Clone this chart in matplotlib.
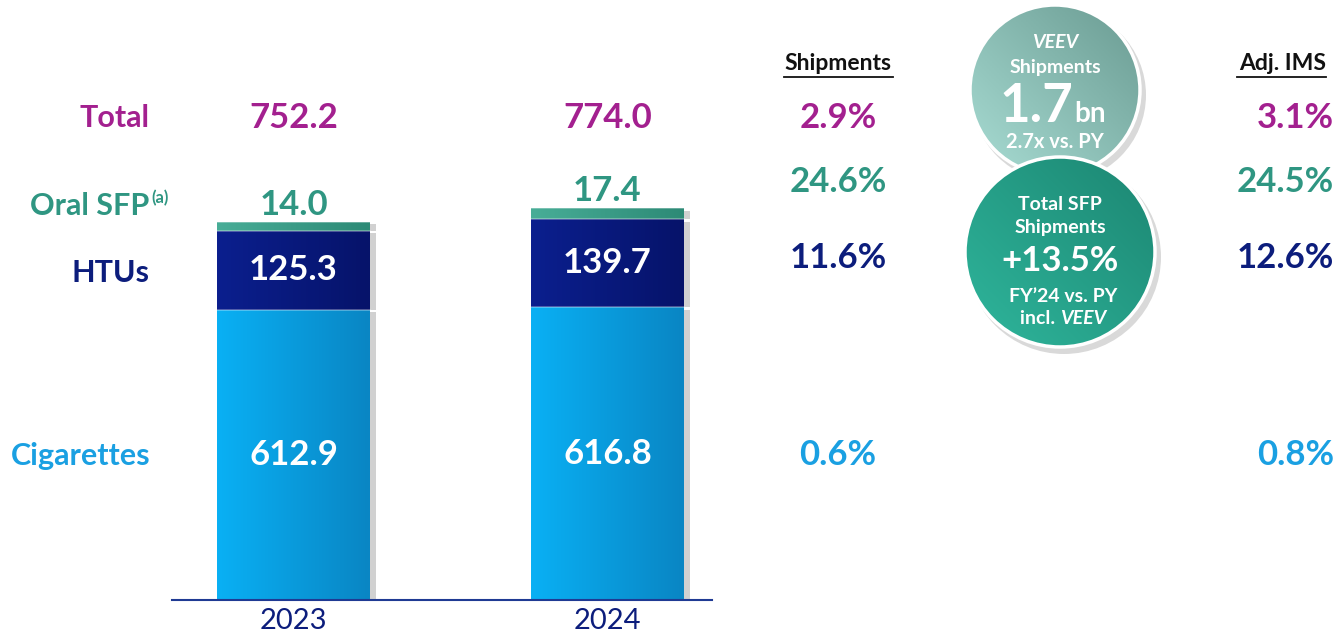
import numpy as np
import matplotlib.pyplot as plt
from matplotlib.patches import Circle, Rectangle
from matplotlib.colors import LinearSegmentedColormap

plt.rcParams['font.family'] = ['Lato', 'DejaVu Sans']

# data
years = ['2023', '2024']
cigarettes = [612.9, 616.8]
htus = [125.3, 139.7]
oral_sfp = [14.0, 17.4]
totals = [752.2, 774.0]

categories = ['Total', 'Oral SFP', 'HTUs', 'Cigarettes']
shipments_growth = ['2.9%', '24.6%', '11.6%', '0.6%']
adj_ims_growth = ['3.1%', '24.5%', '12.6%', '0.8%']

veev_value = '1.7'
veev_note = '2.7x vs. PY'
sfp_growth = '+13.5%'

# colours
PURPLE = '#a3208f'
TEAL = '#2f9682'
NAVY = '#0c1d7c'
LIGHTBLUE = '#1aa0e2'

W, H = 1336, 633
fig = plt.figure(figsize=(W / 100, H / 100), dpi=100)

# bar axes: baseline at y=600px, axis 172..712px
px_per_unit = 0.63
y_min = 152
ax = fig.add_axes([172 / W, (H - 600) / H, 540 / W, 600 / H])
ax.set_ylim(y_min, y_min + 600 / px_per_unit)
ax.set_xlim(-0.387, 1.333)
ax.axis('off')

x = np.arange(len(years))
bw = 0.487


def gradient_fill(patch, c_left, c_right, zorder):
    x0, y0 = patch.get_x(), max(patch.get_y(), y_min)
    x1, y1 = x0 + patch.get_width(), patch.get_y() + patch.get_height()
    cmap = LinearSegmentedColormap.from_list('g', [c_left, c_right])
    grad = np.linspace(0, 1, 64).reshape(1, -1)
    im = ax.imshow(grad, cmap=cmap, extent=(x0, x1, y0, y1), aspect='auto',
                   zorder=zorder, origin='lower')
    im.set_clip_path(patch)


def bevel(patch, zorder):
    # dark right shadow and light top edge
    x0, y0 = patch.get_x(), max(patch.get_y(), y_min)
    w, h = patch.get_width(), patch.get_y() + patch.get_height() - y0
    ax.add_patch(Rectangle((x0 + w, y0), 0.02, h - 4, color='#000000',
                           alpha=0.18, lw=0, zorder=zorder - 2))
    ax.plot([x0, x0 + w], [y0 + h, y0 + h], color='white', alpha=0.35, lw=1.2,
            zorder=zorder + 1)


cig_bars = ax.bar(x, cigarettes, bw, color='#079fe0', zorder=2)
htu_bars = ax.bar(x, htus, bw, bottom=cigarettes, color=NAVY, zorder=2)
oral_bars = ax.bar(x, oral_sfp, bw, bottom=np.add(cigarettes, htus),
                   color='#3aa08c', zorder=2)

for b in cig_bars:
    gradient_fill(b, '#09b0f4', '#0a86c4', 3)
    bevel(b, 3)
for b in htu_bars:
    gradient_fill(b, '#0b1f8e', '#06136a', 3)
    bevel(b, 3)
for b in oral_bars:
    gradient_fill(b, '#48ad97', '#2d8a76', 3)
    bevel(b, 3)

ax.plot([-0.387, 1.333], [y_min, y_min], color='#1f3a93', lw=1.5, zorder=5,
        clip_on=False)

# bar labels
for i in range(len(years)):
    ax.text(x[i], (y_min + cigarettes[i]) / 2, f'{cigarettes[i]:.1f}', color='white',
            ha='center', va='center', fontsize=25, fontweight='bold', zorder=6)
    ax.text(x[i], cigarettes[i] + htus[i] / 2, f'{htus[i]:.1f}', color='white',
            ha='center', va='center', fontsize=25, fontweight='bold', zorder=6)
    ax.text(x[i], totals[i] + 27, f'{oral_sfp[i]:.1f}', color=TEAL,
            ha='center', va='center', fontsize=25, fontweight='bold', zorder=6)
    ax.text(x[i], y_min + (600 - 118) / px_per_unit, f'{totals[i]:.1f}', color=PURPLE,
            ha='center', va='center', fontsize=25, fontweight='bold', zorder=6)
    ax.text(x[i], y_min - 21 / px_per_unit, years[i], color=NAVY,
            ha='center', va='center', fontsize=21, zorder=6, clip_on=False)

# overlay axes in pixel coordinates for the text columns and circles
ov = fig.add_axes([0, 0, 1, 1], zorder=5)
ov.set_xlim(0, W)
ov.set_ylim(H, 0)
ov.axis('off')
ov.patch.set_alpha(0)

row_y = [118, 206, 273, 456]
row_c = [PURPLE, TEAL, NAVY, LIGHTBLUE]
for lab, yy, cc in zip(categories, row_y, row_c):
    ov.text(150 if lab != 'Oral SFP' else 149, yy, lab, color=cc, ha='right',
            va='center', fontsize=22, fontweight='bold')
ov.text(151, 198, '(a)', color=TEAL, ha='left', va='center', fontsize=12,
        fontweight='bold')

ship_y = [118, 182, 258, 455]
for val, yy, cc in zip(shipments_growth, ship_y, row_c):
    ov.text(838, yy, val, color=cc, ha='center', va='center', fontsize=25,
            fontweight='bold')
for val, yy, cc in zip(adj_ims_growth, ship_y, row_c):
    ov.text(1334, yy, val, color=cc, ha='right', va='center', fontsize=25,
            fontweight='bold')

ov.text(838, 64, 'Shipments', color='#111111', ha='center', va='center',
        fontsize=16.5, fontweight='bold')
ov.plot([784, 893], [77, 77], color='#111111', lw=1.3)
ov.text(1326, 64, 'Adj. IMS', color='#111111', ha='right', va='center',
        fontsize=16.5, fontweight='bold')
ov.plot([1237, 1326], [77, 77], color='#111111', lw=1.3)


def bubble(cx, cy, r, c_dark, c_light, z):
    ov.add_patch(Circle((cx + 4, cy + 5), r + 2, color='black', alpha=0.15, lw=0,
                        zorder=z - 1))
    circ = Circle((cx, cy), r, facecolor='none', edgecolor='white', lw=2.5,
                  zorder=z + 1)
    ov.add_patch(circ)
    cmap = LinearSegmentedColormap.from_list('c', [c_dark, c_light])
    gx, gy = np.meshgrid(np.linspace(0, 1, 100), np.linspace(0, 1, 100))
    grad = ((1 - gx) + gy) / 2  # light towards bottom-left
    im = ov.imshow(grad, cmap=cmap, extent=(cx - r, cx + r, cy - r, cy + r),
                   origin='lower', zorder=z, aspect='auto')
    im.set_clip_path(circ)


bubble(1055, 90, 85, '#6a9b92', '#a9ddd4', 6)
bubble(1060, 252, 95, '#1c8672', '#2fb69c', 8)

# top bubble text
ov.text(1055, 43, 'VEEV', color='white', ha='center', va='center', fontsize=14,
        fontweight='bold', style='italic', zorder=10)
ov.text(1055, 67, 'Shipments', color='white', ha='center', va='center', fontsize=14,
        fontweight='bold', zorder=10)
ov.text(1073, 122, veev_value, color='white', ha='right', va='baseline', fontsize=38,
        fontweight='bold', zorder=10)
ov.text(1074, 122, 'bn', color='white', ha='left', va='baseline', fontsize=20,
        fontweight='bold', zorder=10)
ov.text(1055, 142, veev_note, color='white', ha='center', va='center', fontsize=14.5,
        fontweight='bold', zorder=10)

# bottom bubble text
ov.text(1060, 205, 'Total SFP', color='white', ha='center', va='center', fontsize=14,
        fontweight='bold', zorder=10)
ov.text(1060, 228, 'Shipments', color='white', ha='center', va='center', fontsize=14,
        fontweight='bold', zorder=10)
ov.text(1060, 261, sfp_growth, color='white', ha='center', va='center', fontsize=25,
        fontweight='bold', zorder=10)
ov.text(1063, 296, 'FY\u201924 vs. PY', color='white', ha='center', va='center',
        fontsize=14, fontweight='bold', zorder=10)
ov.text(1060, 318, 'incl. ', color='white', ha='right', va='center', fontsize=14,
        fontweight='bold', zorder=10)
ov.text(1060, 318, 'VEEV', color='white', ha='left', va='center', fontsize=14,
        fontweight='bold', style='italic', zorder=10)

fig.savefig('out.png', dpi=100)
